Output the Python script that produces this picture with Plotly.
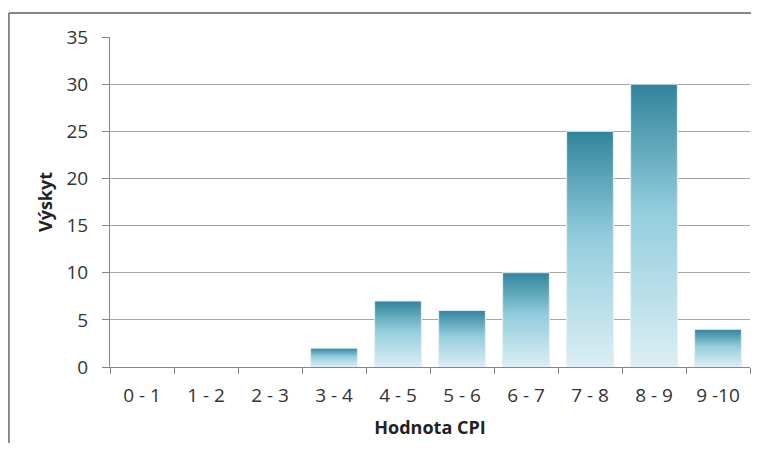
"""
Histogram of CPI values (Výskyt vs Hodnota CPI) with gradient-filled bars.
"""
import plotly.graph_objects as go

# data
categories = ["0 - 1", "1 - 2", "2 - 3", "3 - 4", "4 - 5",
              "5 - 6", "6 - 7", "7 - 8", "8 - 9", "9 -10"]
counts = [0, 0, 0, 2, 7, 6, 10, 25, 30, 4]
y_ticks = [0, 5, 10, 15, 20, 25, 30, 35]

BAR_HALF = 0.365
AXIS_GREY = "#868686"
GRID_GREY = "#a6a6a6"
FONT = "Open Sans"
# bottom (light) -> top (dark teal)
gradient = [[0.0, "#dceef4"], [0.55, "#93cddd"], [1.0, "#31849b"]]

fig = go.Figure()

# one filled polygon per bar so that each gets its own vertical gradient
for i, (cat, v) in enumerate(zip(categories, counts)):
    if v <= 0:
        continue
    fig.add_trace(go.Scatter(
        x=[i - BAR_HALF, i + BAR_HALF, i + BAR_HALF, i - BAR_HALF, i - BAR_HALF],
        y=[0, 0, v, v, 0],
        mode="lines",
        fill="toself",
        fillgradient=dict(type="vertical", colorscale=gradient),
        line=dict(color="#e2f1f6", width=1),
        name=cat,
        hoveron="fills",
        hoverinfo="text",
        text=f"{cat}: {v}",
        showlegend=False,
    ))

# page body has an 8px margin, so the figure is kept smaller than the window
# (otherwise scrollbars show up)
fig.update_layout(
    width=743, height=435,
    margin=dict(l=102, r=1, t=29, b=76),
    paper_bgcolor="white",
    plot_bgcolor="white",
    font=dict(family=FONT, size=19, color="#333333"),
    showlegend=False,
    xaxis=dict(
        range=[-0.5, 9.5],
        tickmode="array",
        tickvals=list(range(len(categories))),
        ticktext=categories,
        ticks="",
        ticklabelstandoff=11,
        showgrid=False,
        zeroline=False,
        showline=True, linecolor=AXIS_GREY, linewidth=1,
        minor=dict(tickmode="array",
                   tickvals=[k - 0.5 for k in range(len(categories) + 1)],
                   ticks="outside", ticklen=6, tickcolor=AXIS_GREY,
                   showgrid=False),
        title=dict(text="<b>Hodnota CPI</b>", standoff=14,
                   font=dict(family=FONT, size=18, color="#222222")),
        fixedrange=True,
    ),
    yaxis=dict(
        range=[0, 35],
        tickmode="array",
        tickvals=y_ticks,
        ticks="outside", ticklen=7, tickcolor=AXIS_GREY,
        ticklabelstandoff=10,
        showgrid=True, gridcolor=GRID_GREY, gridwidth=1,
        zeroline=False,
        showline=True, linecolor=AXIS_GREY, linewidth=1,
        title=dict(text="<b>Výskyt</b>", standoff=9,
                   font=dict(family=FONT, size=18, color="#222222")),
        fixedrange=True,
    ),
)

# outer chart frame: only left and top edges are inside the picture
frame = dict(type="line", xref="paper", yref="paper",
             line=dict(color=AXIS_GREY, width=2), layer="below")
fig.add_shape(**frame, x0=-0.158, x1=1.05, y0=1.073, y1=1.073)
fig.add_shape(**frame, x0=-0.158, x1=-0.158, y0=-0.35, y1=1.073)

fig.write_html("out.html")
print("OK out.html")
